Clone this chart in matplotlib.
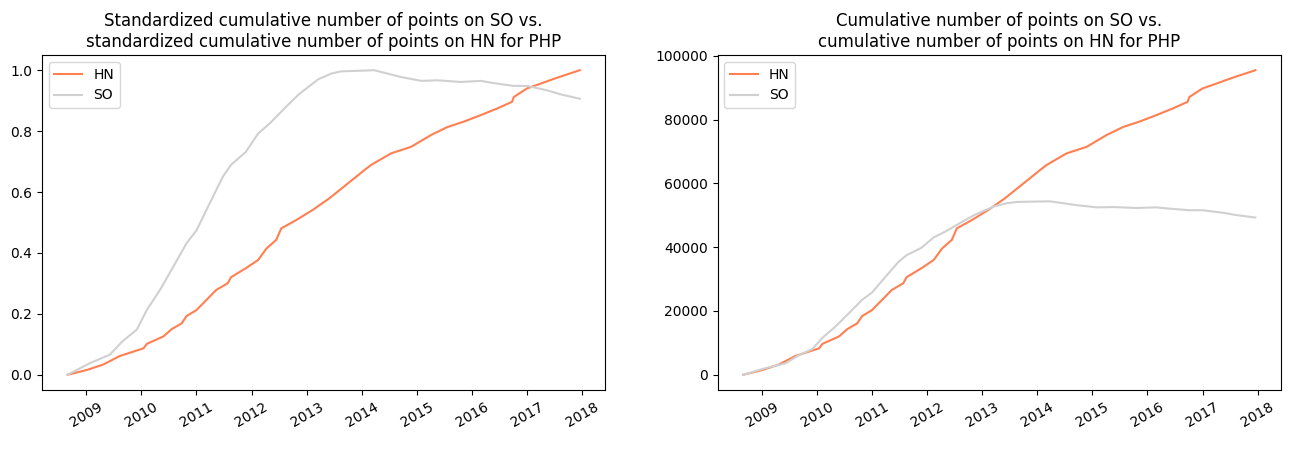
import numpy as np
import pandas as pd
from matplotlib import pyplot as plt

# cumulative points for PHP
hn_dates = ['2008-08-29', '2009-01-04', '2009-04-22', '2009-08-11', '2010-01-15', '2010-02-06',
            '2010-05-26', '2010-07-20', '2010-09-24', '2010-10-27', '2011-01-01', '2011-05-12',
            '2011-07-27', '2011-08-18', '2011-11-24', '2012-02-14', '2012-04-09', '2012-06-13',
            '2012-07-16', '2012-10-23', '2013-02-10', '2013-05-30', '2013-10-01', '2014-01-19',
            '2014-03-04', '2014-07-13', '2014-11-25', '2015-04-06', '2015-07-24', '2015-11-10',
            '2016-02-28', '2016-06-17', '2016-09-24', '2016-10-05', '2017-01-01', '2017-04-02',
            '2017-06-28', '2017-09-24', '2017-12-17']
hn_points = [0, 1500, 3200, 5900, 8300, 9700,
             12000, 14300, 16100, 18400, 20300, 26600,
             28700, 30600, 33400, 36000, 39600, 42300,
             45900, 48500, 51700, 55300, 60000, 64200,
             65800, 69400, 71500, 75200, 77700, 79400,
             81400, 83500, 85600, 87100, 89800, 91300,
             92800, 94200, 95500]

so_dates = ['2008-08-29', '2009-01-26', '2009-06-06', '2009-08-25', '2009-12-02', '2010-02-06',
            '2010-05-05', '2010-07-31', '2010-10-27', '2011-01-01', '2011-03-29', '2011-06-25',
            '2011-08-18', '2011-11-24', '2012-02-14', '2012-05-01', '2012-08-18', '2012-11-14',
            '2013-03-20', '2013-06-13', '2013-08-18', '2014-03-25', '2014-06-21', '2014-09-16',
            '2015-01-30', '2015-05-19', '2015-10-19', '2016-02-28', '2016-05-26', '2016-10-05',
            '2017-01-01', '2017-05-16', '2017-08-11', '2017-12-17']
so_points = [0, 2100, 3600, 5900, 8100, 11600,
             15200, 19300, 23500, 25800, 30600, 35400,
             37500, 39800, 43100, 44900, 47900, 50200,
             52800, 53800, 54200, 54400, 53800, 53200,
             52500, 52600, 52300, 52500, 52100, 51600,
             51600, 50800, 50100, 49300]

hn = pd.Series(hn_points, index=pd.to_datetime(hn_dates))
so = pd.Series(so_points, index=pd.to_datetime(so_dates))

hn_color = '#ff7f50'
so_color = '#d0d0d0'

fig, (ax1, ax2) = plt.subplots(1, 2, figsize=(13.03, 4.49), dpi=100)
plt.subplots_adjust(left=0.0322, right=0.9831, bottom=0.1314, top=0.8775, wspace=0.199)

ax1.plot(hn.index, hn / hn.max(), color=hn_color, lw=1.5, label='HN')
ax1.plot(so.index, so / so.max(), color=so_color, lw=1.5, label='SO')
ax1.set_title('Standardized cumulative number of points on SO vs.\n'
              'standardized cumulative number of points on HN for PHP')
ax1.legend(loc='upper left')

ax2.plot(hn.index, hn, color=hn_color, lw=1.5, label='HN')
ax2.plot(so.index, so, color=so_color, lw=1.5, label='SO')
ax2.set_title('Cumulative number of points on SO vs.\n'
              'cumulative number of points on HN for PHP')
ax2.legend(loc='upper left')

for ax in (ax1, ax2):
    plt.setp(ax.get_xticklabels(), rotation=30)

plt.savefig('out.png', dpi=100)
